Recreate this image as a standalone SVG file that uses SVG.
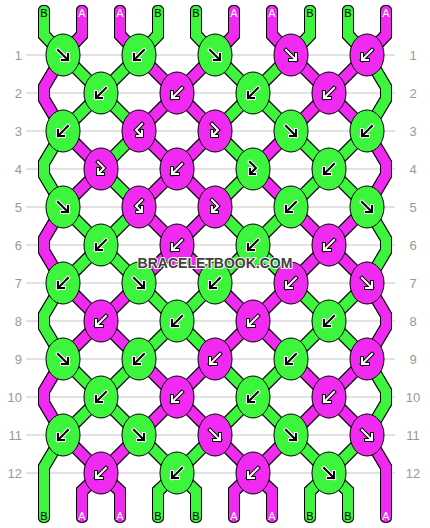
<svg xmlns="http://www.w3.org/2000/svg" xmlns:xlink="http://www.w3.org/1999/xlink" width="430" height="528" viewBox="0 0 430 528">
<style>
.grid line{stroke:#c4c4c4;stroke-width:1}
.num{font-family:"Liberation Sans",Arial,sans-serif;font-size:13px;fill:#999}
.lab{font-family:"Liberation Sans",Arial,sans-serif;font-size:11px;text-anchor:middle}
.lb{fill:#000}.la{fill:#fff}
#connectors path{fill:none;stroke-width:10;stroke-linejoin:miter;stroke-linecap:round}
#connectors .g{stroke:#3cf53c}
#connectors .m{stroke:#f02af0}
.kg{fill:#3cf53c;stroke:#000;stroke-width:1}
.km{fill:#f02af0;stroke:#000;stroke-width:1}
.wm{font-family:"Liberation Sans",Arial,sans-serif;font-weight:bold;font-size:14px;text-anchor:middle;fill:#404040;stroke:#fff;stroke-width:2;paint-order:stroke;stroke-linejoin:round}
</style>
<defs>
<filter id="ol" filterUnits="userSpaceOnUse" x="0" y="0" width="430" height="528">
<feMorphology in="SourceAlpha" operator="dilate" radius="1" result="d"/>
<feFlood flood-color="#000"/>
<feComposite in2="d" operator="in" result="o"/>
<feMerge><feMergeNode in="o"/><feMergeNode in="SourceGraphic"/></feMerge>
</filter>
<path id="pF" d="M-5,-5L5,5M5,-1L5,5L-1,5" fill="none" stroke-linecap="square" stroke-linejoin="miter"/>
<path id="pFB" d="M-3,-7L3,-1L-2,4M-3,0L-3,5L2,5" fill="none" stroke-linecap="square" stroke-linejoin="miter"/>
<g id="fG"><use href="#pF" stroke="#fff" stroke-width="4"/><use href="#pF" stroke="#000" stroke-width="2"/></g>
<g id="fM"><use href="#pF" stroke="#000" stroke-width="4"/><use href="#pF" stroke="#fff" stroke-width="2"/></g>
<g id="bG" transform="scale(-1,1)"><use href="#fG"/></g>
<g id="bM" transform="scale(-1,1)"><use href="#fM"/></g>
<g id="fbG"><use href="#pFB" stroke="#fff" stroke-width="4"/><use href="#pFB" stroke="#000" stroke-width="2"/></g>
<g id="fbM"><use href="#pFB" stroke="#000" stroke-width="4"/><use href="#pFB" stroke="#fff" stroke-width="2"/></g>
<g id="bfM" transform="scale(-1,1)"><use href="#fbM"/></g>
</defs>
<rect width="430" height="528" fill="#fff"/>
<g class="grid">
<line x1="26" y1="55" x2="395" y2="55"/><line x1="26" y1="93" x2="395" y2="93"/><line x1="26" y1="131" x2="395" y2="131"/><line x1="26" y1="169" x2="395" y2="169"/><line x1="26" y1="207" x2="395" y2="207"/><line x1="26" y1="245" x2="395" y2="245"/><line x1="26" y1="283" x2="395" y2="283"/><line x1="26" y1="321" x2="395" y2="321"/><line x1="26" y1="359" x2="395" y2="359"/><line x1="26" y1="397" x2="395" y2="397"/><line x1="26" y1="435" x2="395" y2="435"/><line x1="26" y1="473" x2="395" y2="473"/>
</g>
<g id="row-numbers">
<text class="num" text-anchor="end" x="22" y="59.5">1</text><text class="num" text-anchor="end" x="22" y="97.5">2</text><text class="num" text-anchor="end" x="22" y="135.5">3</text><text class="num" text-anchor="end" x="22" y="173.5">4</text><text class="num" text-anchor="end" x="22" y="211.5">5</text><text class="num" text-anchor="end" x="22" y="249.5">6</text><text class="num" text-anchor="end" x="22" y="287.5">7</text><text class="num" text-anchor="end" x="22" y="325.5">8</text><text class="num" text-anchor="end" x="22" y="363.5">9</text><text class="num" text-anchor="end" x="22" y="401.5">10</text><text class="num" text-anchor="end" x="22" y="439.5">11</text><text class="num" text-anchor="end" x="22" y="477.5">12</text>
<text class="num" text-anchor="middle" x="413" y="59.5">1</text><text class="num" text-anchor="middle" x="413" y="97.5">2</text><text class="num" text-anchor="middle" x="413" y="135.5">3</text><text class="num" text-anchor="middle" x="413" y="173.5">4</text><text class="num" text-anchor="middle" x="413" y="211.5">5</text><text class="num" text-anchor="middle" x="413" y="249.5">6</text><text class="num" text-anchor="middle" x="413" y="287.5">7</text><text class="num" text-anchor="middle" x="413" y="325.5">8</text><text class="num" text-anchor="middle" x="413" y="363.5">9</text><text class="num" text-anchor="middle" x="413" y="401.5">10</text><text class="num" text-anchor="middle" x="413" y="439.5">11</text><text class="num" text-anchor="middle" x="413" y="477.5">12</text>
</g>
<g id="connectors" filter="url(#ol)">
<path class="g" d="M44,11L44,35L63,55M158,11L158,35L139,55M196,11L196,35L215,55M310,11L310,35L291,55M348,11L348,35L367,55"/>
<path class="m" d="M82,11L82,35L63,55M120,11L120,35L139,55M234,11L234,35L215,55M272,11L272,35L291,55M386,11L386,35L367,55"/>
<path class="g" d="M63,55L101,93M139,55L101,93M215,55L253,93M291,55L253,93"/>
<path class="m" d="M139,55L177,93M215,55L177,93M291,55L329,93M367,55L329,93"/>
<path class="g" d="M101,93L63,131M101,93L139,131M253,93L215,131M253,93L291,131"/>
<path class="m" d="M177,93L139,131M177,93L215,131M329,93L291,131M329,93L367,131"/>
<path class="m" d="M63,131L101,169M139,131L177,169M215,131L177,169M291,131L253,169"/>
<path class="g" d="M139,131L101,169M215,131L253,169M291,131L329,169M367,131L329,169"/>
<path class="m" d="M101,169L63,207M177,169L139,207M177,169L215,207M253,169L291,207"/>
<path class="g" d="M101,169L139,207M253,169L215,207M329,169L291,207M329,169L367,207"/>
<path class="g" d="M63,207L101,245M139,207L101,245M215,207L253,245M291,207L253,245"/>
<path class="m" d="M139,207L177,245M215,207L177,245M291,207L329,245M367,207L329,245"/>
<path class="g" d="M101,245L63,283M101,245L139,283M253,245L215,283M253,245L291,283"/>
<path class="m" d="M177,245L139,283M177,245L215,283M329,245L291,283M329,245L367,283"/>
<path class="m" d="M63,283L101,321M139,283L101,321M215,283L253,321M291,283L253,321"/>
<path class="g" d="M139,283L177,321M215,283L177,321M291,283L329,321M367,283L329,321"/>
<path class="m" d="M101,321L63,359M101,321L139,359M253,321L215,359M253,321L291,359"/>
<path class="g" d="M177,321L139,359M177,321L215,359M329,321L291,359M329,321L367,359"/>
<path class="g" d="M63,359L101,397M139,359L101,397M215,359L253,397M291,359L253,397"/>
<path class="m" d="M139,359L177,397M215,359L177,397M291,359L329,397M367,359L329,397"/>
<path class="g" d="M101,397L63,435M101,397L139,435M253,397L215,435M253,397L291,435"/>
<path class="m" d="M177,397L139,435M177,397L215,435M329,397L291,435M329,397L367,435"/>
<path class="m" d="M63,435L101,473M139,435L101,473M215,435L253,473M291,435L253,473"/>
<path class="g" d="M139,435L177,473M215,435L177,473M291,435L329,473M367,435L329,473"/>
<path class="m" d="M63,55L44,87L44,99L63,131"/>
<path class="g" d="M63,131L44,163L44,175L63,207"/>
<path class="m" d="M63,207L44,239L44,251L63,283"/>
<path class="g" d="M63,283L44,315L44,327L63,359"/>
<path class="m" d="M63,359L44,391L44,403L63,435"/>
<path class="g" d="M63,435L44,467L44,517"/>
<path class="g" d="M367,55L386,87L386,99L367,131"/>
<path class="m" d="M367,131L386,163L386,175L367,207"/>
<path class="g" d="M367,207L386,239L386,251L367,283"/>
<path class="m" d="M367,283L386,315L386,327L367,359"/>
<path class="g" d="M367,359L386,391L386,403L367,435"/>
<path class="m" d="M367,435L386,467L386,517"/>
<path class="m" d="M101,473L82,491L82,517M101,473L120,491L120,517M253,473L234,491L234,517M253,473L272,491L272,517"/>
<path class="g" d="M177,473L158,491L158,517M177,473L196,491L196,517M329,473L310,491L310,517M329,473L348,491L348,517"/>
</g>
<g id="thread-labels">
<text class="lab lb" x="44" y="17">B</text><text class="lab la" x="82" y="17">A</text><text class="lab la" x="120" y="17">A</text><text class="lab lb" x="158" y="17">B</text><text class="lab lb" x="196" y="17">B</text><text class="lab la" x="234" y="17">A</text><text class="lab la" x="272" y="17">A</text><text class="lab lb" x="310" y="17">B</text><text class="lab lb" x="348" y="17">B</text><text class="lab la" x="386" y="17">A</text>
<text class="lab lb" x="44" y="520">B</text><text class="lab la" x="82" y="520">A</text><text class="lab la" x="120" y="520">A</text><text class="lab lb" x="158" y="520">B</text><text class="lab lb" x="196" y="520">B</text><text class="lab la" x="234" y="520">A</text><text class="lab la" x="272" y="520">A</text><text class="lab lb" x="310" y="520">B</text><text class="lab lb" x="348" y="520">B</text><text class="lab la" x="386" y="520">A</text>
</g>
<g id="knots">
<g id="k1-1"><ellipse class="kg" cx="63" cy="55" rx="17" ry="21"/><use href="#fG" x="63" y="55"/></g>
<g id="k1-2"><ellipse class="kg" cx="139" cy="55" rx="17" ry="21"/><use href="#bG" x="139" y="55"/></g>
<g id="k1-3"><ellipse class="kg" cx="215" cy="55" rx="17" ry="21"/><use href="#fG" x="215" y="55"/></g>
<g id="k1-4"><ellipse class="km" cx="291" cy="55" rx="17" ry="21"/><use href="#fM" x="291" y="55"/></g>
<g id="k1-5"><ellipse class="km" cx="367" cy="55" rx="17" ry="21"/><use href="#bM" x="367" y="55"/></g>
<g id="k2-1"><ellipse class="kg" cx="101" cy="93" rx="17" ry="21"/><use href="#bG" x="101" y="93"/></g>
<g id="k2-2"><ellipse class="km" cx="177" cy="93" rx="17" ry="21"/><use href="#bM" x="177" y="93"/></g>
<g id="k2-3"><ellipse class="kg" cx="253" cy="93" rx="17" ry="21"/><use href="#bG" x="253" y="93"/></g>
<g id="k2-4"><ellipse class="km" cx="329" cy="93" rx="17" ry="21"/><use href="#bM" x="329" y="93"/></g>
<g id="k3-1"><ellipse class="kg" cx="63" cy="131" rx="17" ry="21"/><use href="#bG" x="63" y="131"/></g>
<g id="k3-2"><ellipse class="km" cx="139" cy="131" rx="17" ry="21"/><use href="#bfM" x="139" y="131"/></g>
<g id="k3-3"><ellipse class="km" cx="215" cy="131" rx="17" ry="21"/><use href="#fbM" x="215" y="131"/></g>
<g id="k3-4"><ellipse class="kg" cx="291" cy="131" rx="17" ry="21"/><use href="#fG" x="291" y="131"/></g>
<g id="k3-5"><ellipse class="kg" cx="367" cy="131" rx="17" ry="21"/><use href="#bG" x="367" y="131"/></g>
<g id="k4-1"><ellipse class="km" cx="101" cy="169" rx="17" ry="21"/><use href="#fbM" x="101" y="169"/></g>
<g id="k4-2"><ellipse class="km" cx="177" cy="169" rx="17" ry="21"/><use href="#bM" x="177" y="169"/></g>
<g id="k4-3"><ellipse class="kg" cx="253" cy="169" rx="17" ry="21"/><use href="#fbG" x="253" y="169"/></g>
<g id="k4-4"><ellipse class="kg" cx="329" cy="169" rx="17" ry="21"/><use href="#bG" x="329" y="169"/></g>
<g id="k5-1"><ellipse class="kg" cx="63" cy="207" rx="17" ry="21"/><use href="#fG" x="63" y="207"/></g>
<g id="k5-2"><ellipse class="km" cx="139" cy="207" rx="17" ry="21"/><use href="#bfM" x="139" y="207"/></g>
<g id="k5-3"><ellipse class="km" cx="215" cy="207" rx="17" ry="21"/><use href="#fbM" x="215" y="207"/></g>
<g id="k5-4"><ellipse class="kg" cx="291" cy="207" rx="17" ry="21"/><use href="#bG" x="291" y="207"/></g>
<g id="k5-5"><ellipse class="kg" cx="367" cy="207" rx="17" ry="21"/><use href="#fG" x="367" y="207"/></g>
<g id="k6-1"><ellipse class="kg" cx="101" cy="245" rx="17" ry="21"/><use href="#bG" x="101" y="245"/></g>
<g id="k6-2"><ellipse class="km" cx="177" cy="245" rx="17" ry="21"/><use href="#bM" x="177" y="245"/></g>
<g id="k6-3"><ellipse class="kg" cx="253" cy="245" rx="17" ry="21"/><use href="#bG" x="253" y="245"/></g>
<g id="k6-4"><ellipse class="km" cx="329" cy="245" rx="17" ry="21"/><use href="#bM" x="329" y="245"/></g>
<g id="k7-1"><ellipse class="kg" cx="63" cy="283" rx="17" ry="21"/><use href="#bG" x="63" y="283"/></g>
<g id="k7-2"><ellipse class="kg" cx="139" cy="283" rx="17" ry="21"/><use href="#fG" x="139" y="283"/></g>
<g id="k7-3"><ellipse class="kg" cx="215" cy="283" rx="17" ry="21"/><use href="#bG" x="215" y="283"/></g>
<g id="k7-4"><ellipse class="km" cx="291" cy="283" rx="17" ry="21"/><use href="#bM" x="291" y="283"/></g>
<g id="k7-5"><ellipse class="km" cx="367" cy="283" rx="17" ry="21"/><use href="#fM" x="367" y="283"/></g>
<g id="k8-1"><ellipse class="km" cx="101" cy="321" rx="17" ry="21"/><use href="#bM" x="101" y="321"/></g>
<g id="k8-2"><ellipse class="kg" cx="177" cy="321" rx="17" ry="21"/><use href="#bG" x="177" y="321"/></g>
<g id="k8-3"><ellipse class="km" cx="253" cy="321" rx="17" ry="21"/><use href="#bM" x="253" y="321"/></g>
<g id="k8-4"><ellipse class="kg" cx="329" cy="321" rx="17" ry="21"/><use href="#bG" x="329" y="321"/></g>
<g id="k9-1"><ellipse class="kg" cx="63" cy="359" rx="17" ry="21"/><use href="#fG" x="63" y="359"/></g>
<g id="k9-2"><ellipse class="kg" cx="139" cy="359" rx="17" ry="21"/><use href="#bG" x="139" y="359"/></g>
<g id="k9-3"><ellipse class="km" cx="215" cy="359" rx="17" ry="21"/><use href="#bM" x="215" y="359"/></g>
<g id="k9-4"><ellipse class="kg" cx="291" cy="359" rx="17" ry="21"/><use href="#bG" x="291" y="359"/></g>
<g id="k9-5"><ellipse class="km" cx="367" cy="359" rx="17" ry="21"/><use href="#bM" x="367" y="359"/></g>
<g id="k10-1"><ellipse class="kg" cx="101" cy="397" rx="17" ry="21"/><use href="#bG" x="101" y="397"/></g>
<g id="k10-2"><ellipse class="km" cx="177" cy="397" rx="17" ry="21"/><use href="#bM" x="177" y="397"/></g>
<g id="k10-3"><ellipse class="kg" cx="253" cy="397" rx="17" ry="21"/><use href="#bG" x="253" y="397"/></g>
<g id="k10-4"><ellipse class="km" cx="329" cy="397" rx="17" ry="21"/><use href="#bM" x="329" y="397"/></g>
<g id="k11-1"><ellipse class="kg" cx="63" cy="435" rx="17" ry="21"/><use href="#bG" x="63" y="435"/></g>
<g id="k11-2"><ellipse class="kg" cx="139" cy="435" rx="17" ry="21"/><use href="#fG" x="139" y="435"/></g>
<g id="k11-3"><ellipse class="km" cx="215" cy="435" rx="17" ry="21"/><use href="#fM" x="215" y="435"/></g>
<g id="k11-4"><ellipse class="kg" cx="291" cy="435" rx="17" ry="21"/><use href="#fG" x="291" y="435"/></g>
<g id="k11-5"><ellipse class="km" cx="367" cy="435" rx="17" ry="21"/><use href="#fM" x="367" y="435"/></g>
<g id="k12-1"><ellipse class="km" cx="101" cy="473" rx="17" ry="21"/><use href="#bM" x="101" y="473"/></g>
<g id="k12-2"><ellipse class="kg" cx="177" cy="473" rx="17" ry="21"/><use href="#bG" x="177" y="473"/></g>
<g id="k12-3"><ellipse class="km" cx="253" cy="473" rx="17" ry="21"/><use href="#bM" x="253" y="473"/></g>
<g id="k12-4"><ellipse class="kg" cx="329" cy="473" rx="17" ry="21"/><use href="#fG" x="329" y="473"/></g>
</g>
<text class="wm" x="215" y="268">BRACELETBOOK.COM</text>
</svg>
